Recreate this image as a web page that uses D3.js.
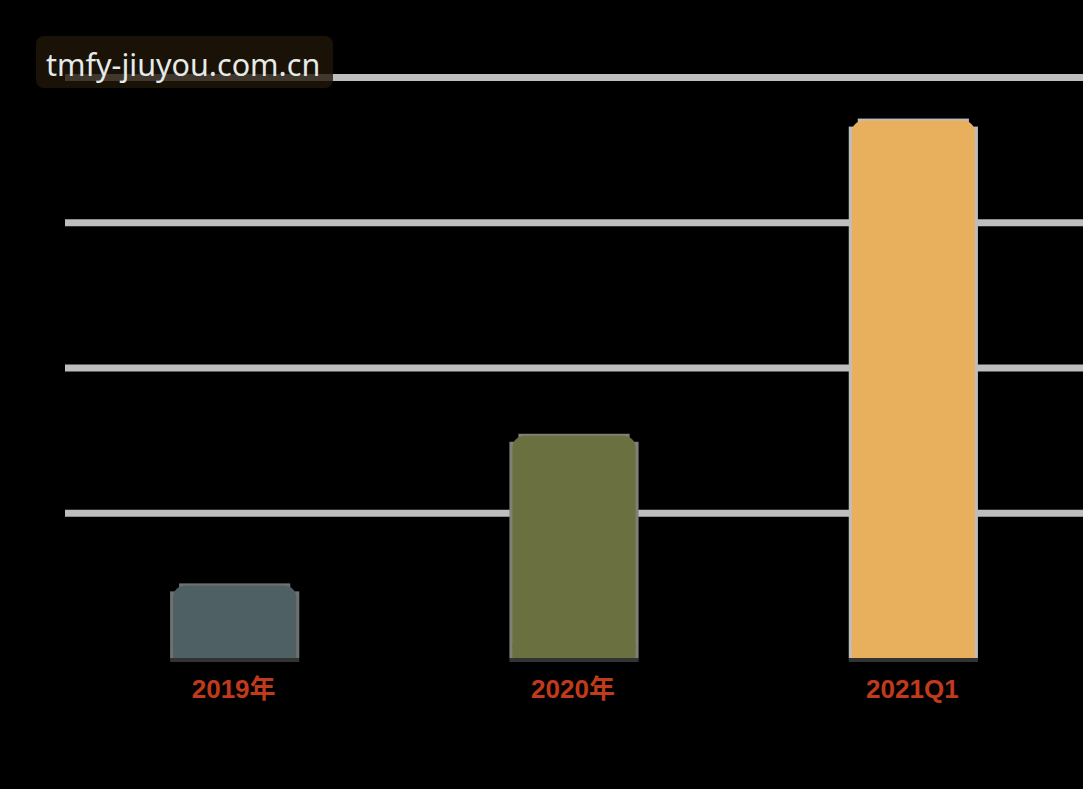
<!DOCTYPE html>
<html>
<head>
<meta charset="utf-8">
<script src="https://cdn.jsdelivr.net/npm/d3@7"></script>
<style>
  html, body { margin: 0; padding: 0; background: #000; }
  svg { display: block; }
</style>
</head>
<body>
<div id="chart"></div>
<script>
// data (no axis labels, so units are relative)
var categories = ['2019年', '2020年', '2021Q1'];
var values = [0.5, 1.53, 3.7];
var gridTicks = [1, 2, 3, 4];
var barColors = ['#4f6064', '#6b7041', '#e8b05c'];
var edgeColors = ['#6e7172', '#7f8078', '#bdbdbd'];

var W = 1083, H = 789;
// careful: "top" is window.top, so use other names
var plotLeft = 65, plotRight = 1083, plotTop = 77, plotBottom = 658;

var svg = d3.select('#chart').append('svg')
    .attr('width', W)
    .attr('height', H)
    .style('background', '#000');

var x = d3.scaleBand()
    .domain(categories)
    .range([plotLeft, plotRight])
    .paddingInner(0.637)
    .paddingOuter(0.3185);

var y = d3.scaleLinear()
    .domain([0, 4])
    .range([plotBottom, plotTop]);

// grid lines - thick light grey, no tick labels
var grid = svg.append('g')
    .attr('transform', 'translate(' + plotLeft + ',0)')
    .call(d3.axisLeft(y).tickValues(gridTicks).tickSize(-(plotRight - plotLeft)).tickFormat(''));
grid.select('.domain').remove();
grid.selectAll('line')
    .attr('stroke', '#bebebe')
    .attr('stroke-width', 7);

var bars = svg.append('g').selectAll('g')
    .data(categories)
    .enter().append('g');

// grey edge behind each bar
bars.append('rect')
    .attr('x', function(d){ return x(d) - 3; })
    .attr('y', function(d, i){ return y(values[i]) + 6; })
    .attr('width', x.bandwidth() + 6)
    .attr('height', function(d, i){ return plotBottom - y(values[i]) - 6; })
    .attr('fill', function(d, i){ return edgeColors[i]; });

// narrower cap on top
bars.append('rect')
    .attr('x', function(d){ return x(d) + 6; })
    .attr('y', function(d, i){ return y(values[i]) - 2; })
    .attr('width', x.bandwidth() - 12)
    .attr('height', 10)
    .attr('fill', function(d, i){ return edgeColors[i]; });

// coloured body, rounded top
bars.append('rect')
    .attr('x', function(d){ return x(d); })
    .attr('y', function(d, i){ return y(values[i]); })
    .attr('width', x.bandwidth())
    .attr('height', function(d, i){ return plotBottom - y(values[i]); })
    .attr('rx', 12)
    .attr('fill', function(d, i){ return barColors[i]; });

// square off the bottom corners
bars.append('rect')
    .attr('x', function(d){ return x(d); })
    .attr('y', plotBottom - 14)
    .attr('width', x.bandwidth())
    .attr('height', 14)
    .attr('fill', function(d, i){ return barColors[i]; });

// dark strip under each bar
bars.append('rect')
    .attr('x', function(d){ return x(d) - 3; })
    .attr('y', plotBottom)
    .attr('width', x.bandwidth() + 6)
    .attr('height', 4)
    .attr('fill', '#333');

// category labels
svg.append('g').selectAll('text')
    .data(categories)
    .enter().append('text')
    .attr('x', function(d){ return x(d) + x.bandwidth() / 2 - 1; })
    .attr('y', 698)
    .attr('text-anchor', 'middle')
    .attr('font-family', '"Liberation Sans", "Noto Sans CJK SC", sans-serif')
    .attr('font-weight', 'bold')
    .attr('font-size', 26)
    .attr('fill', '#c23a1c')
    .text(function(d){ return d; });

// watermark - semi transparent box, grid shows through a little
svg.append('rect')
    .attr('x', 36).attr('y', 36)
    .attr('width', 297).attr('height', 52)
    .attr('rx', 8)
    .attr('fill', '#201709')
    .attr('opacity', 0.8);
svg.append('text')
    .attr('x', 46).attr('y', 76)
    .attr('font-family', '"Noto Sans", "Open Sans", sans-serif')
    .attr('font-size', 30.5)
    .attr('fill', '#e4ebea')
    .text('tmfy-jiuyou.com.cn');
</script>
</body>
</html>
